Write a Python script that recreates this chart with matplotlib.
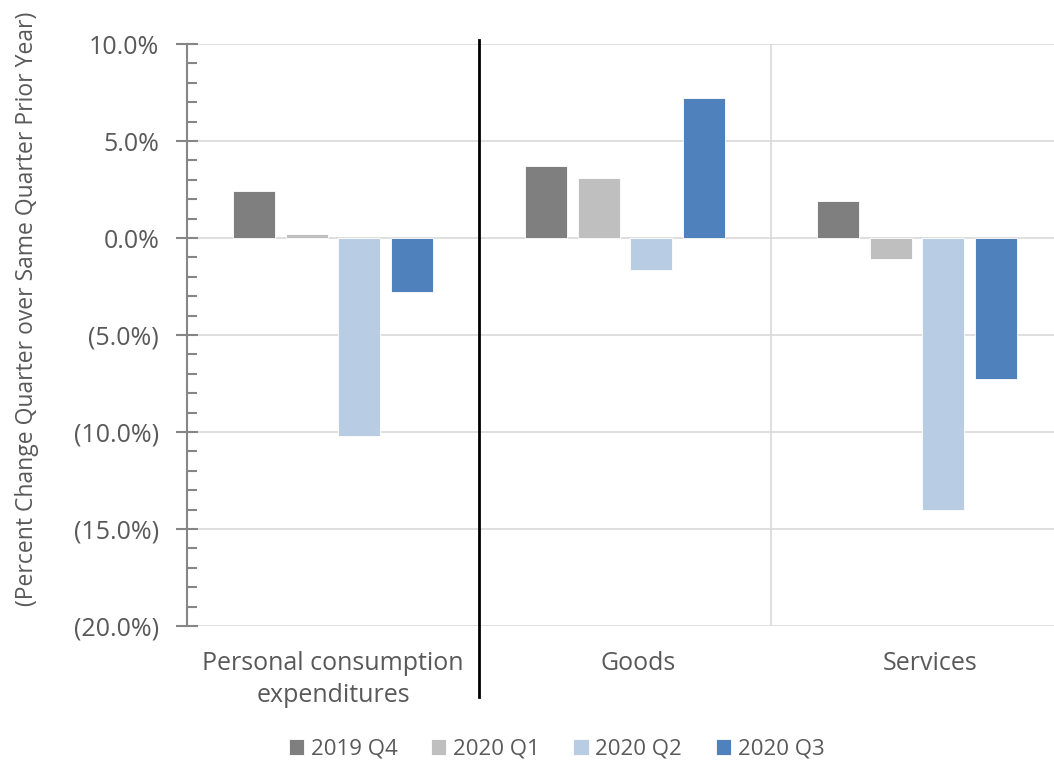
import numpy as np
import matplotlib
matplotlib.use('Agg')
import matplotlib.pyplot as plt
from matplotlib.ticker import MultipleLocator, FuncFormatter
import matplotlib.transforms as mtransforms

# Data (percent change, quarter over same quarter prior year)
categories = ['Personal consumption\nexpenditures', 'Goods', 'Services']
series_names = ['2019 Q4', '2020 Q1', '2020 Q2', '2020 Q3']
q4_2019 = [2.4, 3.7, 1.9]
q1_2020 = [0.2, 3.1, -1.1]
q2_2020 = [-10.2, -1.65, -14.0]
q3_2020 = [-2.8, 7.2, -7.25]
colors = ['#7F7F7F', '#BFBFBF', '#B8CCE4', '#4F81BD']

plt.rcParams['font.family'] = ['Open Sans', 'DejaVu Sans']
text_color = '#595959'

fig = plt.figure(figsize=(10.54, 7.63), dpi=100)
# axes runs a little past the right edge of the figure, like the original
ax = fig.add_axes([0.1774, 0.1795, 0.8311, 0.7628])

x = np.arange(len(categories))
width = 0.143
step = 0.18
all_series = [q4_2019, q1_2020, q2_2020, q3_2020]
for i, (vals, name, col) in enumerate(zip(all_series, series_names, colors)):
    offs = (i - 1.5) * step
    ax.bar(x + offs, vals, width, color=col, label=name,
           edgecolor='white', linewidth=0.6, zorder=3)

ax.set_xlim(-0.5, 2.5)
ax.set_ylim(-20, 10)

# y axis ticks
ax.yaxis.set_major_locator(MultipleLocator(5))
ax.yaxis.set_minor_locator(MultipleLocator(1))

def pct(v, pos):
    if v < 0:
        return f'({abs(v):.1f}%)'
    return f'{v:.1f}%'

ax.yaxis.set_major_formatter(FuncFormatter(pct))
ax.tick_params(axis='y', which='major', direction='inout', length=16, width=1.5,
               color='#868686', labelsize=18, labelcolor=text_color, pad=12)
ax.tick_params(axis='y', which='minor', direction='in', length=7, width=1.5,
               color='#868686')
ax.grid(axis='y', which='major', color='#D9D9D9', linewidth=1.2, zorder=0)

# category labels and vertical category gridlines
ax.set_xticks(x)
ax.set_xticklabels(categories, fontsize=18, color=text_color, linespacing=1.35)
ax.tick_params(axis='x', which='major', length=0, pad=18)
ax.set_xticks([0.5, 1.5], minor=True)
ax.tick_params(axis='x', which='minor', length=0)
ax.grid(axis='x', which='minor', color='#D9D9D9', linewidth=1.2, zorder=0)

# Goods / Services labels sit a bit right of their bar groups
for lbl in ax.get_xticklabels()[1:]:
    lbl.set_transform(lbl.get_transform() +
                      mtransforms.ScaledTranslation(0.13, 0, fig.dpi_scale_trans))

for side in ['top', 'right', 'bottom']:
    ax.spines[side].set_visible(False)
ax.spines['left'].set_color('#868686')
ax.spines['left'].set_linewidth(1.5)

# black separator line between total and components
trans = mtransforms.blended_transform_factory(ax.transData, ax.transAxes)
ax.plot([0.5, 0.5], [-0.122, 1.007], color='black', linewidth=2,
        transform=trans, clip_on=False, zorder=5)

ax.set_ylabel('(Percent Change Quarter over Same Quarter Prior Year)',
              fontsize=16.5, color=text_color)
ax.yaxis.set_label_coords(-0.169, 0.545)

handles, labels = ax.get_legend_handles_labels()
fig.legend(handles, labels, loc='center', bbox_to_anchor=(0.528, 0.018),
           ncol=4, frameon=False, fontsize=16, labelcolor=text_color,
           handlelength=0.7, handleheight=0.7, handletextpad=0.3,
           columnspacing=1.5)

fig.savefig('out.png', dpi=100)
